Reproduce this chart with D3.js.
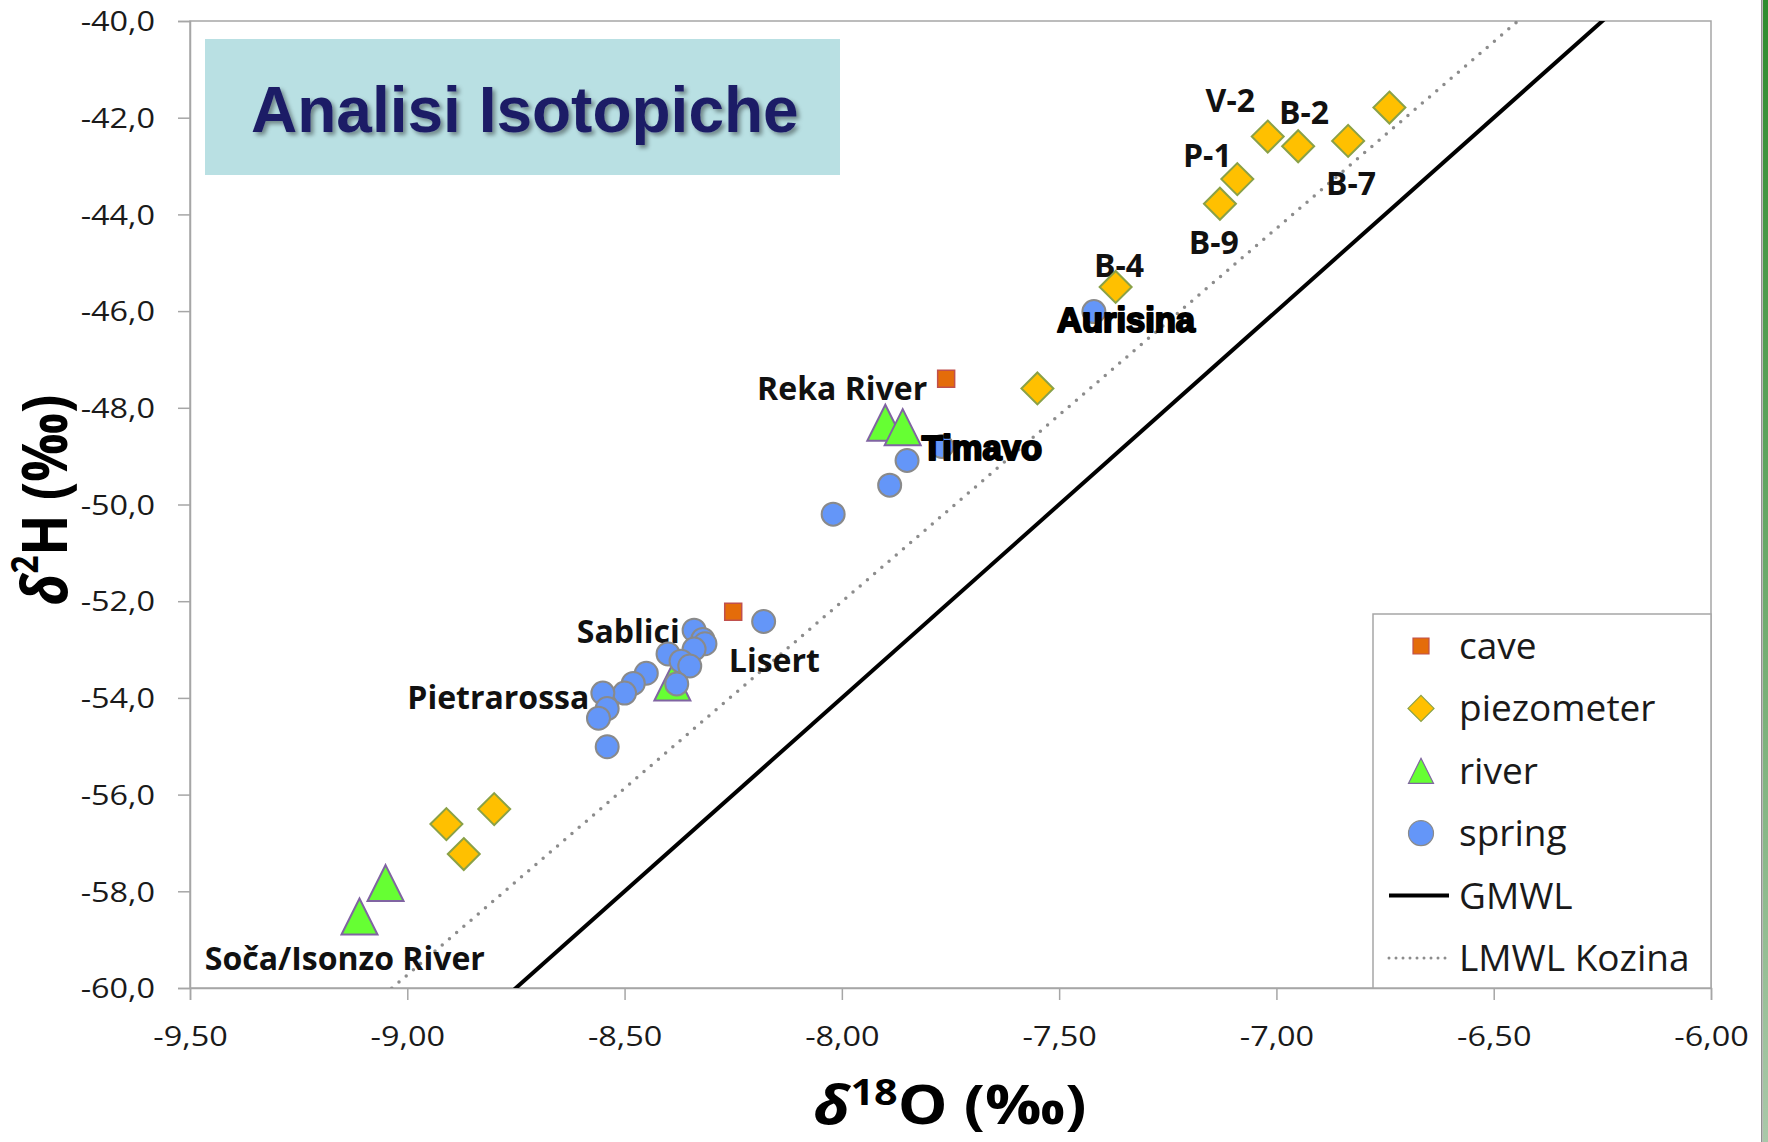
<!DOCTYPE html>
<html>
<head>
<meta charset="utf-8">
<script src="https://cdn.jsdelivr.net/npm/d3@7"></script>
<style>
  body { margin: 0; background: #fff; }
  svg text { font-family: "Open Sans", sans-serif; }
</style>
</head>
<body>
<svg id="chart" width="1768" height="1142"></svg>
<script>
// tick values
var xTicks = [-9.5, -9, -8.5, -8, -7.5, -7, -6.5, -6];
var yTicks = [-60, -58, -56, -54, -52, -50, -48, -46, -44, -42, -40];

// samples: [d18O, d2H]
var cave = [[-7.76, -47.40], [-8.25, -52.22]];
var piezometer = [
  [-7.02, -42.39], [-6.95, -42.59], [-6.835, -42.48], [-6.74, -41.79],
  [-7.09, -43.27], [-7.13, -43.78], [-7.37, -45.50], [-7.55, -47.60],
  [-8.80, -56.30], [-8.91, -56.61], [-8.87, -57.23]
];
var river = [[-7.90, -48.31], [-7.86, -48.40], [-8.39, -53.68], [-9.05, -57.83], [-9.11, -58.52]];
var spring = [
  [-7.42, -46.01], [-7.77, -48.80], [-7.85, -49.09], [-7.89, -49.60], [-8.02, -50.20],
  [-8.18, -52.42], [-8.34, -52.60], [-8.32, -52.79], [-8.315, -52.88], [-8.34, -52.99],
  [-8.40, -53.09], [-8.37, -53.24], [-8.35, -53.34], [-8.38, -53.71], [-8.45, -53.49],
  [-8.48, -53.70], [-8.50, -53.90], [-8.55, -53.90], [-8.54, -54.22], [-8.56, -54.42],
  [-8.54, -55.01]
];

// meteoric water lines: [slope, intercept]
var gmwl = [8, 10];
var lmwl = [7.72, 9.75];

// site labels (anchor in d18O / d2H, text starts there)
var labelText = ["Reka River", "Sablici", "Lisert", "Pietrarossa", "Soča/Isonzo River",
                 "V-2", "B-2", "P-1", "B-7", "B-9", "B-4"];
var labelO = [-8.195, -8.61, -8.26, -9.0, -9.466, -7.163, -6.994, -7.215, -6.886, -7.202, -7.42];
var labelH = [-47.84, -52.86, -53.46, -54.23, -59.63, -41.88, -42.13, -43.02, -43.60, -44.82, -45.29];
var heavyText = ["Timavo", "Aurisina"];
var heavyO = [-7.816, -7.505];
var heavyH = [-49.08, -46.43];

var svg = d3.select('#chart');

var x = d3.scaleLinear().domain([-9.5, -6]).range([190, 1711]);
var y = d3.scaleLinear().domain([-60, -40]).range([988, 21]);

var loc = d3.formatLocale({decimal: ",", thousands: ".", grouping: [3], currency: ["", "€"], minus: "-"});
var fmtX = loc.format(".2f");
var fmtY = loc.format(".1f");

var arial = '"Liberation Sans", Arial, sans-serif';

var defs = svg.append('defs');
defs.append('clipPath').attr('id', 'plot')
  .append('rect').attr('x', 190).attr('y', 21).attr('width', 1521).attr('height', 967);
var shadow = defs.append('filter').attr('id', 'shadow')
  .attr('x', '-10%').attr('y', '-20%').attr('width', '130%').attr('height', '150%');
shadow.append('feDropShadow').attr('dx', 3).attr('dy', 3).attr('stdDeviation', 2)
  .attr('flood-color', '#000').attr('flood-opacity', 0.4);
var grad = defs.append('linearGradient').attr('id', 'edge')
  .attr('x1', 0).attr('y1', 0).attr('x2', 0).attr('y2', 1);
grad.append('stop').attr('offset', '0%').attr('stop-color', '#2e8c2e');
grad.append('stop').attr('offset', '100%').attr('stop-color', '#a9c8a9');

// slide edge on the right
svg.append('rect').attr('x', 1761).attr('y', 0).attr('width', 1.6).attr('height', 1142).attr('fill', '#8f8f8f');
svg.append('rect').attr('x', 1763).attr('y', 0).attr('width', 5).attr('height', 1142).attr('fill', 'url(#edge)');

// plot area
svg.append('rect')
  .attr('x', 190).attr('y', 21).attr('width', 1521).attr('height', 967)
  .attr('fill', '#fff').attr('stroke', '#a6a6a6').attr('stroke-width', 1.5);

// axes
var xAxis = svg.append('g')
  .attr('transform', 'translate(0,988)')
  .call(d3.axisBottom(x).tickValues(xTicks).tickSize(12).tickFormat(fmtX));
var yAxis = svg.append('g')
  .attr('transform', 'translate(190,0)')
  .call(d3.axisLeft(y).tickValues(yTicks).tickSize(12).tickFormat(fmtY));

[xAxis, yAxis].forEach(function(a) {
  a.attr('font-size', 27);
  a.select('.domain').attr('stroke', '#a6a6a6').attr('stroke-width', 1.5);
  a.selectAll('.tick line').attr('stroke', '#a6a6a6').attr('stroke-width', 1.5);
  a.selectAll('.tick text').attr('fill', '#1a1a1a');
});
xAxis.selectAll('.tick text')
  .attr('y', 58).attr('dy', null)
  .attr('transform', 'scale(1.2,1)');
yAxis.selectAll('.tick text')
  .attr('x', -35 / 1.2).attr('dy', '0.36em')
  .attr('transform', 'scale(1.2,1)');

// axis titles
var xt = svg.append('text')
  .attr('transform', 'translate(950,1124) scale(1.16,1)')
  .attr('text-anchor', 'middle')
  .attr('font-size', 54).attr('font-weight', 'bold').attr('fill', '#000');
xt.append('tspan').attr('font-style', 'italic').text('δ');
xt.append('tspan').attr('font-size', '0.66em').attr('dy', '-0.52em').text('18');
xt.append('tspan').attr('dy', '0.34em').text('O (‰)');

var yt = svg.append('text')
  .attr('transform', 'translate(67,500) scale(1.17,1) rotate(-90)')
  .attr('text-anchor', 'middle')
  .attr('font-size', 54).attr('font-weight', 'bold').attr('fill', '#000');
yt.append('tspan').attr('font-style', 'italic').text('δ');
yt.append('tspan').attr('font-size', '0.58em').attr('dy', '-0.78em').text('2');
yt.append('tspan').attr('dy', '0.45em').text('H (‰)');

// meteoric water lines
var lineGen = d3.line().x(function(d) { return x(d[0]); }).y(function(d) { return y(d[1]); });
var lines = svg.append('g').attr('clip-path', 'url(#plot)');
function wl(p) {
  return x.domain().map(function(o) { return [o, p[0] * o + p[1]]; });
}
lines.append('path').datum(wl(lmwl)).attr('d', lineGen)
  .attr('fill', 'none').attr('stroke', '#8c8c8c').attr('stroke-width', 3.5)
  .attr('stroke-linecap', 'round').attr('stroke-dasharray', '0 9.5');
lines.append('path').datum(wl(gmwl)).attr('d', lineGen)
  .attr('fill', 'none').attr('stroke', '#000').attr('stroke-width', 4);

// site labels (under the markers)
svg.append('g').selectAll('text')
  .data(labelText)
  .enter()
  .append('text')
  .attr('x', function(d, i) { return x(labelO[i]); })
  .attr('y', function(d, i) { return y(labelH[i]); })
  .attr('font-size', 32).attr('font-weight', 'bold').attr('fill', '#111')
  .text(function(d) { return d; });

// marker shapes
var shapes = {
  square: function(s) { return 'M' + (-s / 2) + ',' + (-s / 2) + 'h' + s + 'v' + s + 'h' + (-s) + 'Z'; },
  diamond: function(s) { return 'M0,' + (-s / 2) + 'L' + (s / 2) + ',0L0,' + (s / 2) + 'L' + (-s / 2) + ',0Z'; },
  triangle: function(s) { return 'M0,' + (-s / 2) + 'L' + (s / 2) + ',' + (s / 2) + 'L' + (-s / 2) + ',' + (s / 2) + 'Z'; },
  circle: function(s) { var r = s / 2; return 'M' + r + ',0A' + r + ',' + r + ' 0 1,1 ' + (-r) + ',0A' + r + ',' + r + ' 0 1,1 ' + r + ',0Z'; }
};

var series = [
  {name: 'cave', data: cave, shape: 'square', size: 17, leg: 16, fill: '#e46c0a', stroke: '#c0504d', sw: 1.5},
  {name: 'piezometer', data: piezometer, shape: 'diamond', size: 32, leg: 26, fill: '#ffc000', stroke: '#8aa147', sw: 2},
  {name: 'river', data: river, shape: 'triangle', size: 36, leg: 25, fill: '#66ff33', stroke: '#8064a2', sw: 2},
  {name: 'spring', data: spring, shape: 'circle', size: 23, leg: 25, fill: '#6496f8', stroke: '#8a8a8a', sw: 2}
];

series.forEach(function(s) {
  svg.append('g').attr('class', s.name)
    .selectAll('path')
    .data(s.data)
    .enter()
    .append('path')
    .attr('transform', function(d) { return 'translate(' + x(d[0]) + ',' + y(d[1]) + ')'; })
    .attr('d', shapes[s.shape](s.size))
    .attr('fill', s.fill).attr('stroke', s.stroke).attr('stroke-width', s.sw);
});

// heavy labels (over the markers)
svg.append('g').selectAll('text')
  .data(heavyText)
  .enter()
  .append('text')
  .attr('x', function(d, i) { return x(heavyO[i]); })
  .attr('y', function(d, i) { return y(heavyH[i]); })
  .style('font-family', arial)
  .attr('font-size', 34.5).attr('font-weight', 'bold')
  .attr('fill', '#000').attr('stroke', '#000').attr('stroke-width', 2.2)
  .attr('stroke-linejoin', 'round')
  .text(function(d) { return d; });

// title box
svg.append('rect')
  .attr('x', 205).attr('y', 39).attr('width', 635).attr('height', 136)
  .attr('fill', '#b9e0e3');
svg.append('text')
  .attr('x', 251).attr('y', 132)
  .style('font-family', arial)
  .attr('font-size', 64).attr('font-weight', 'bold')
  .attr('fill', '#1f1f66').attr('filter', 'url(#shadow)')
  .text('Analisi Isotopiche');

// legend
var legend = svg.append('g');
legend.append('rect')
  .attr('x', 1373).attr('y', 614).attr('width', 338).attr('height', 374)
  .attr('fill', '#fff').attr('stroke', '#a6a6a6').attr('stroke-width', 1.5);

var legendRows = series.map(function(s) { return {label: s.name, s: s}; })
  .concat([{label: 'GMWL', line: 'solid'}, {label: 'LMWL Kozina', line: 'dotted'}]);

var rows = legend.selectAll('g.row')
  .data(legendRows)
  .enter()
  .append('g')
  .attr('class', 'row')
  .attr('transform', function(d, i) { return 'translate(0,' + (646 + i * 62.4) + ')'; });

rows.filter(function(d) { return d.s; })
  .append('path')
  .attr('transform', 'translate(1421,0)')
  .attr('d', function(d) { return shapes[d.s.shape](d.s.leg); })
  .attr('fill', function(d) { return d.s.fill; })
  .attr('stroke', function(d) { return d.s.stroke; })
  .attr('stroke-width', 1.2);

rows.filter(function(d) { return d.line; })
  .append('line')
  .attr('x1', 1389).attr('x2', 1449).attr('y1', 0).attr('y2', 0)
  .attr('stroke', function(d) { return d.line === 'solid' ? '#000' : '#8c8c8c'; })
  .attr('stroke-width', function(d) { return d.line === 'solid' ? 4 : 3; })
  .attr('stroke-linecap', function(d) { return d.line === 'solid' ? 'butt' : 'round'; })
  .attr('stroke-dasharray', function(d) { return d.line === 'solid' ? null : '0 7'; });

rows.append('text')
  .attr('x', 1459).attr('y', 13)
  .attr('font-size', 37).attr('fill', '#1a1a1a')
  .text(function(d) { return d.label; });
</script>
</body>
</html>
